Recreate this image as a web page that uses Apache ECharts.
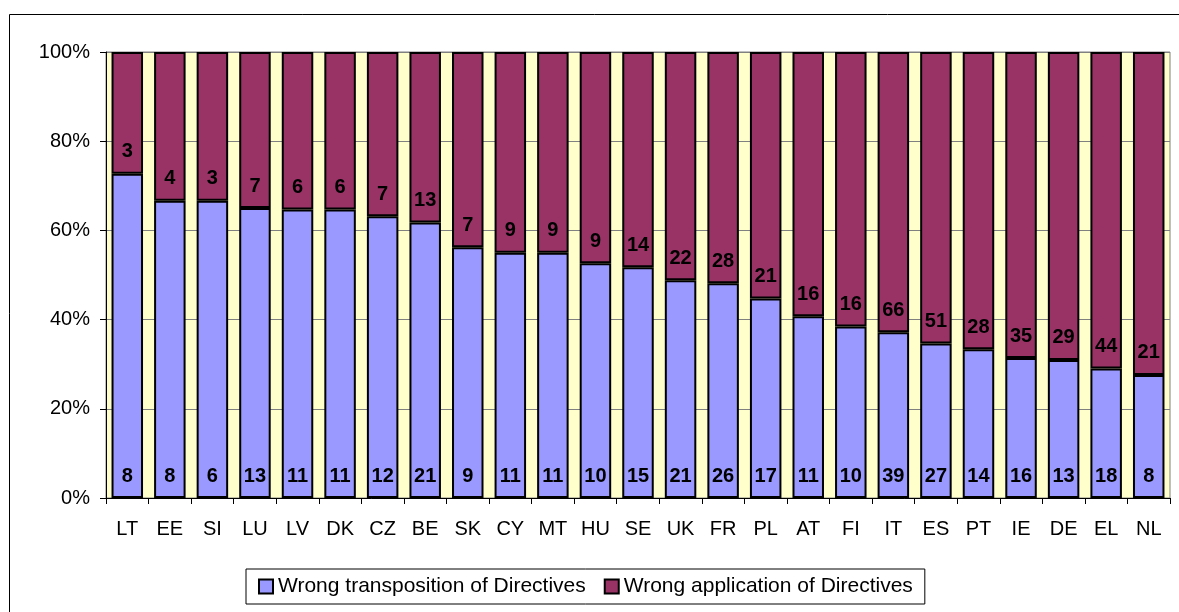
<!DOCTYPE html>
<html>
<head>
<meta charset="utf-8">
<script src="https://cdn.jsdelivr.net/npm/echarts@6/dist/echarts.min.js"></script>
<style>
  html, body { margin: 0; padding: 0; background: #fff; }
  #chart { width: 1179px; height: 612px; }
</style>
</head>
<body>
<div id="chart"></div>
<script>
const countries = ["LT", "EE", "SI", "LU", "LV", "DK", "CZ", "BE", "SK", "CY", "MT", "HU", "SE",
  "UK", "FR", "PL", "AT", "FI", "IT", "ES", "PT", "IE", "DE", "EL", "NL"];
const transposition = [8, 8, 6, 13, 11, 11, 12, 21, 9, 11, 11, 10, 15, 21, 26, 17, 11, 10, 39, 27, 14, 16, 13, 18, 8];
const application = [3, 4, 3, 7, 6, 6, 7, 13, 7, 9, 9, 9, 14, 22, 28, 21, 16, 16, 66, 51, 28, 35, 29, 44, 21];
const seriesNames = ["Wrong transposition of Directives", "Wrong application of Directives"];

// share of each country's total, the labels keep the raw counts
const share = (arr, i) => arr[i] / (transposition[i] + application[i]) * 100;

const chart = echarts.init(document.getElementById("chart"));

const labelStyle = {
  show: true,
  position: "insideBottom",
  distance: 12,
  color: "#000",
  fontFamily: "Liberation Sans, Arial, sans-serif",
  fontWeight: "bold",
  fontSize: 20,
};

const option = {
  animation: false,
  textStyle: { fontFamily: "Liberation Sans, Arial, sans-serif" },
  graphic: [
    {
      type: "rect",
      shape: { x: 9.5, y: 14.5, width: 1200, height: 700 },
      style: { fill: null, stroke: "#000", lineWidth: 1 },
      z: 0,
    },
  ],
  grid: {
    left: 106,
    right: 9,
    top: 52,
    bottom: 114,
    show: true,
    backgroundColor: "#FFFFCC",
    borderColor: "#808080",
    borderWidth: 1,
  },
  legend: {
    bottom: 8,
    left: 246,
    icon: "rect",
    itemWidth: 14,
    itemHeight: 14,
    itemGap: 18,
    padding: [7, 12, 7, 12],
    borderColor: "#000",
    borderWidth: 1,
    backgroundColor: "#fff",
    textStyle: { fontSize: 21, color: "#000" },
    data: seriesNames.map((n) => ({ name: n, itemStyle: { borderColor: "#000", borderWidth: 2 } })),
  },
  xAxis: {
    type: "category",
    data: countries,
    axisLine: { lineStyle: { color: "#000", width: 1 } },
    axisTick: { show: true, length: 6, lineStyle: { color: "#000" } },
    axisLabel: { color: "#000", fontSize: 20, margin: 21 },
  },
  yAxis: {
    type: "value",
    min: 0,
    max: 100,
    interval: 20,
    axisLine: { show: true, lineStyle: { color: "#000" } },
    axisTick: { show: true, length: 6, lineStyle: { color: "#000" } },
    axisLabel: { color: "#000", fontSize: 20, margin: 16, formatter: "{value}%" },
    splitLine: { show: true, lineStyle: { color: "#808080", width: 1 } },
  },
  series: [
    {
      name: seriesNames[0],
      type: "bar",
      stack: "total",
      barCategoryGap: "26%",
      data: countries.map((c, i) => share(transposition, i)),
      itemStyle: { color: "#9999FF", borderColor: "#000", borderWidth: 2 },
      label: { ...labelStyle, formatter: (p) => transposition[p.dataIndex] },
    },
    {
      name: seriesNames[1],
      type: "bar",
      stack: "total",
      data: countries.map((c, i) => share(application, i)),
      itemStyle: { color: "#993366", borderColor: "#000", borderWidth: 2 },
      label: { ...labelStyle, formatter: (p) => application[p.dataIndex] },
    },
  ],
};

chart.setOption(option);
</script>
</body>
</html>
